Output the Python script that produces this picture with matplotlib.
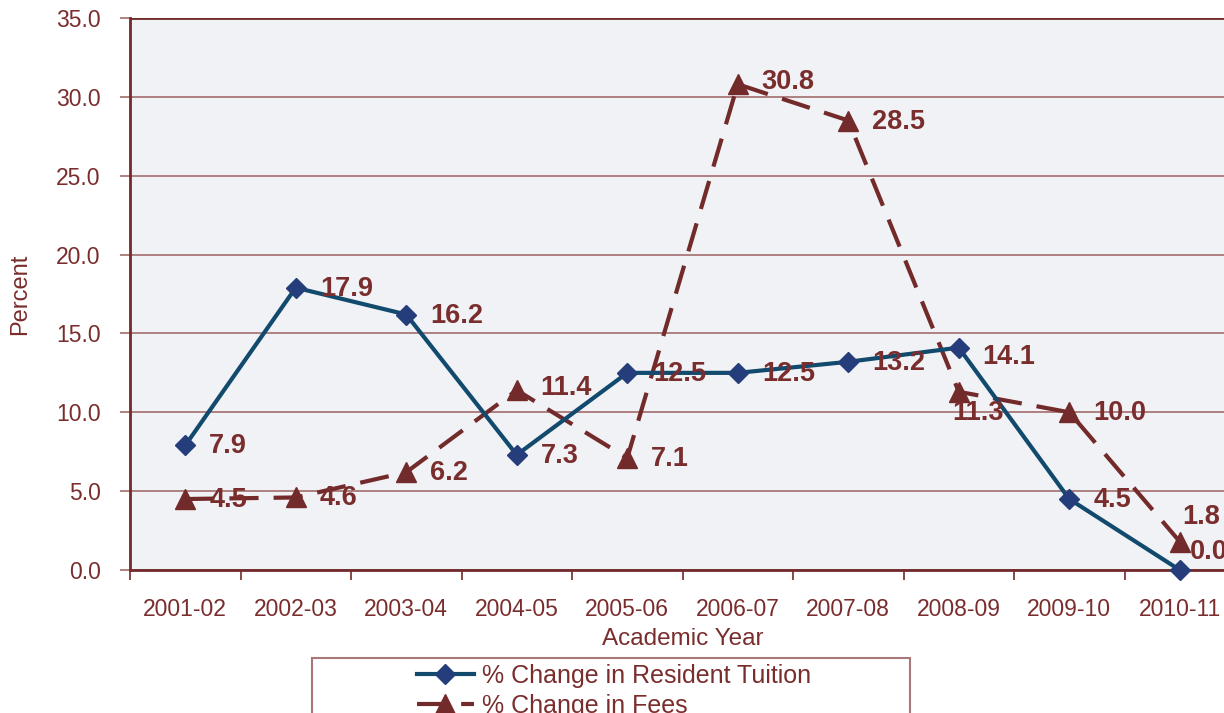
import matplotlib
matplotlib.use('Agg')
import matplotlib.pyplot as plt
from matplotlib.patches import Rectangle

years = ['2001-02', '2002-03', '2003-04', '2004-05', '2005-06',
         '2006-07', '2007-08', '2008-09', '2009-10', '2010-11']
tuition = [7.9, 17.9, 16.2, 7.3, 12.5, 12.5, 13.2, 14.1, 4.5, 0.0]
fees = [4.5, 4.6, 6.2, 11.4, 7.1, 30.8, 28.5, 11.3, 10.0, 1.8]

# label offsets in pixels (dx, dy) relative to each marker
tuition_offsets = [(24, -1), (24, -1), (24, -1), (24, -1), (26, -1),
                   (24, -1), (24, -1), (24, -9), (24, -1), (10, 18)]
fees_offsets = [(24, -1), (24, -1), (24, -1), (24, 2), (24, -1),
                (24, 2), (24, -1), (-6, -21), (24, -1), (3, 25)]

maroon = '#722A2A'
text_col = '#7A2D2D'
blue_line = '#124A6E'
blue_mark = '#263D7B'
PX = 0.72  # points per pixel at dpi 100

plt.rcParams['font.family'] = ['Liberation Sans', 'DejaVu Sans']

fig = plt.figure(figsize=(12.24, 7.13), dpi=100)
ax = fig.add_axes([130 / 1224, 1 - 570 / 713, 1105 / 1224, 552 / 713])
ax.set_facecolor('#F1F2F5')

x = list(range(len(years)))
ax.plot(x, tuition, color=blue_line, lw=3, marker='D', ms=10,
        mfc=blue_mark, mec=blue_mark, label='% Change in Resident Tuition', zorder=4,
        clip_on=False)
ax.plot(x, fees, color=maroon, lw=3, dashes=(7, 3.6), marker='^', ms=14,
        mfc=maroon, mec=maroon, label='% Change in Fees', zorder=3, clip_on=False)

for vals, offs in [(tuition, tuition_offsets), (fees, fees_offsets)]:
    for xi, v, (dx, dy) in zip(x, vals, offs):
        ax.annotate(f'{v:.1f}', (xi, v), xytext=(dx * PX, dy * PX),
                    textcoords='offset points', ha='left', va='center',
                    fontsize=19.5, fontweight='bold', color=text_col, zorder=6,
                    annotation_clip=False)

ax.set_xlim(-0.5, 9.5)
ax.set_ylim(0, 35)
ax.set_yticks([0, 5, 10, 15, 20, 25, 30, 35])
ax.set_yticklabels([f'{t:.1f}' for t in ax.get_yticks()])
ax.set_xticks(x)
ax.set_xticklabels(years)
ax.set_xticks([i - 0.5 for i in range(len(years) + 1)], minor=True)
ax.tick_params(axis='x', which='major', length=0, pad=20, labelsize=16.5, labelcolor=text_col)
ax.tick_params(axis='x', which='minor', length=7, width=1.2, color=maroon)
ax.tick_params(axis='y', length=7, width=1.2, color='#A36B6B', labelsize=16.5,
               labelcolor=text_col, pad=14)

ax.grid(axis='y', color='#A87878', lw=1.3)
ax.set_axisbelow(True)
for s in ['top', 'right']:
    ax.spines[s].set_visible(False)
ax.axhline(35, color=maroon, lw=2, zorder=2)
for s in ['left', 'bottom']:
    ax.spines[s].set_color(maroon)
    ax.spines[s].set_linewidth(2)

ax.set_xlabel('Academic Year', fontsize=17.5, color=text_col, labelpad=5)
ax.set_ylabel('Percent', fontsize=17, color=text_col, labelpad=18)

fig.patches.append(Rectangle((312 / 1224, -0.05), 598 / 1224, 0.05 + (1 - 658 / 713),
                             transform=fig.transFigure, fill=False,
                             edgecolor='#A87878', lw=1.5))
fig.legend(loc='upper left', bbox_to_anchor=(404 / 1224, 1 - 651 / 713),
           frameon=False, fontsize=18, labelcolor=text_col, handlelength=2.3,
           handletextpad=0.3, labelspacing=0.25, borderpad=0.0)

fig.savefig('out.png', dpi=100)
